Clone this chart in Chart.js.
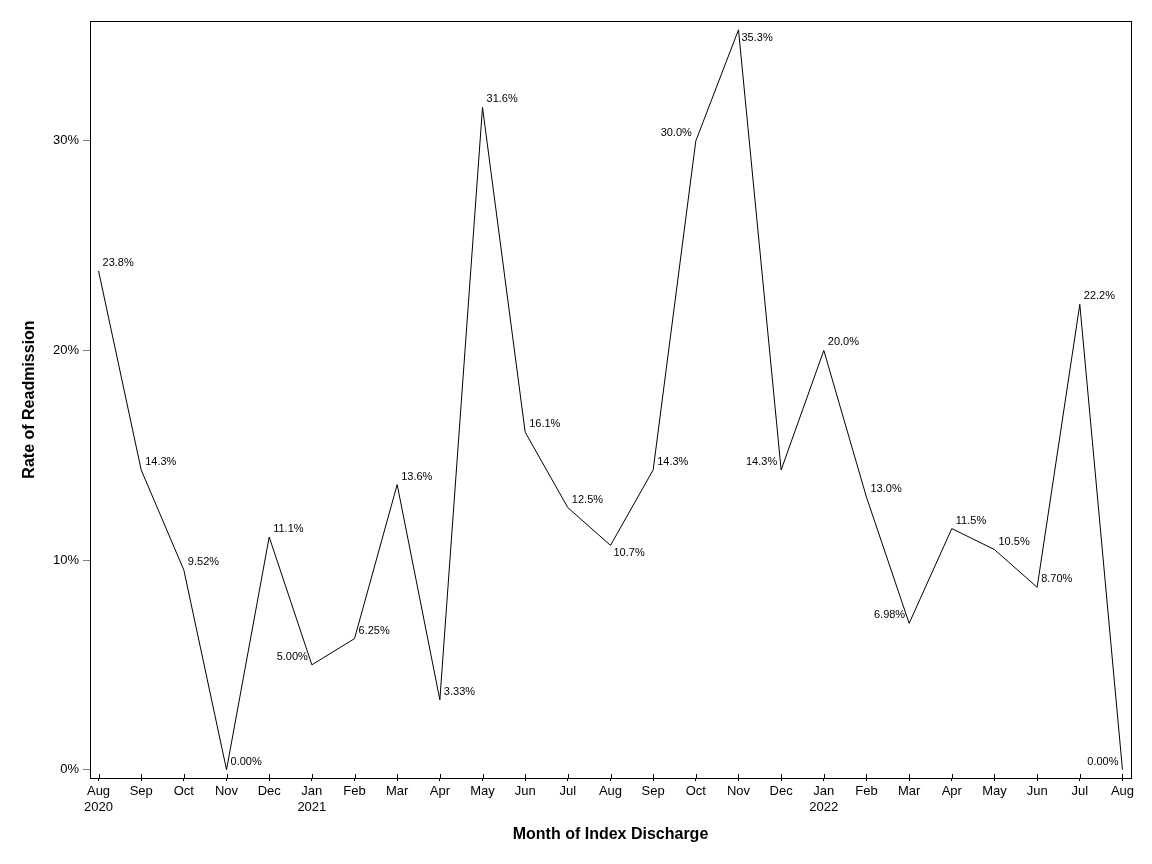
<!DOCTYPE html>
<html>
<head>
<meta charset="utf-8">
<script src="https://cdn.jsdelivr.net/npm/chart.js@4/dist/chart.umd.min.js"></script>
<style>
    html, body { margin: 0; padding: 0; background: #fff; }
    #wrap { width: 1152px; height: 864px; }
</style>
</head>
<body>
<div id="wrap"><canvas id="readmitChart" width="1152" height="864"></canvas></div>
<script>
// Month of index discharge (year shown under Aug 2020, Jan 2021, Jan 2022)
const months = ['Aug\n2020', 'Sep', 'Oct', 'Nov', 'Dec', 'Jan\n2021', 'Feb', 'Mar', 'Apr', 'May', 'Jun', 'Jul',
    'Aug', 'Sep', 'Oct', 'Nov', 'Dec', 'Jan\n2022', 'Feb', 'Mar', 'Apr', 'May', 'Jun', 'Jul', 'Aug'];

// Rate of readmission (%)
const readmitRates = [23.8, 14.3, 9.52, 0.00, 11.1, 5.00, 6.25, 13.6, 3.33, 31.6, 16.1, 12.5,
    10.7, 14.3, 30.0, 35.3, 14.3, 20.0, 13.0, 6.98, 11.5, 10.5, 8.70, 22.2, 0.00];

// y axis tick values (%)
const yTicks = [0, 10, 20, 30];

// where each point label sits: ur = up-right, ul = up-left, dr = down-right
const labelSide = ['ur', 'ur', 'ur', 'ur', 'ur', 'ul', 'ur', 'ur', 'ur', 'ur', 'ur', 'ur',
    'dr', 'ur', 'ul', 'dr', 'ul', 'ur', 'ur', 'ul', 'ur', 'ur', 'ur', 'ur', 'ul'];

const FONT = '"Liberation Sans", Arial, sans-serif';

function fmtPct(v) {
    return v.toPrecision(3) + '%';
}

// frame round the plot + inner half of the x ticks
const framePlugin = {
    id: 'frame',
    afterDraw(chart) {
        const { ctx, chartArea: a } = chart;
        const xs = chart.scales.x;
        ctx.save();
        ctx.strokeStyle = '#000';
        ctx.lineWidth = 1;
        ctx.strokeRect(Math.round(a.left) + 0.5, Math.round(a.top) + 0.5,
            Math.round(a.right - a.left), Math.round(a.bottom - a.top));
        months.forEach((m, i) => {
            const px = Math.round(xs.getPixelForValue(i)) + 0.5;
            ctx.beginPath();
            ctx.moveTo(px, a.bottom - 4);
            ctx.lineTo(px, a.bottom);
            ctx.stroke();
        });
        ctx.restore();
    }
};

// value labels next to each point
const pointLabels = {
    id: 'pointLabels',
    afterDatasetsDraw(chart) {
        const { ctx } = chart;
        const meta = chart.getDatasetMeta(0);
        ctx.save();
        ctx.font = '11px ' + FONT;
        ctx.fillStyle = '#000';
        ctx.textBaseline = 'middle';
        meta.data.forEach((pt, i) => {
            const side = labelSide[i];
            const txt = fmtPct(readmitRates[i]);
            if (side === 'ul') {
                ctx.textAlign = 'right';
                ctx.fillText(txt, pt.x - 4, pt.y - 8);
            } else if (side === 'dr') {
                ctx.textAlign = 'left';
                ctx.fillText(txt, pt.x + 3, pt.y + 8);
            } else {
                ctx.textAlign = 'left';
                ctx.fillText(txt, pt.x + 4, pt.y - 8);
            }
        });
        ctx.restore();
    }
};

const ctx = document.getElementById('readmitChart').getContext('2d');
new Chart(ctx, {
    type: 'line',
    data: {
        datasets: [{
            data: readmitRates.map((v, i) => ({ x: i, y: v })),
            borderColor: '#000',
            borderWidth: 1,
            pointRadius: 0,
            tension: 0,
            fill: false
        }]
    },
    options: {
        responsive: false,
        animation: false,
        devicePixelRatio: 1,
        layout: { padding: { top: 21, right: 21, left: 0, bottom: 0 } },
        plugins: {
            legend: { display: false },
            tooltip: { enabled: false }
        },
        scales: {
            x: {
                type: 'linear',
                min: -0.2,
                max: 24.2,
                afterBuildTicks: (scale) => {
                    scale.ticks = months.map((m, i) => ({ value: i }));
                },
                afterFit: (scale) => { scale.height = 86; },
                ticks: {
                    autoSkip: false,
                    maxRotation: 0,
                    padding: 3,
                    color: '#000',
                    font: { family: FONT, size: 13 },
                    callback: (val) => {
                        const m = months[val];
                        return m && m.includes('\n') ? m.split('\n') : m;
                    }
                },
                grid: { drawOnChartArea: false, drawTicks: true, tickLength: 3, color: '#000' },
                border: { display: true, color: '#000', width: 1 },
                title: {
                    display: true,
                    text: 'Month of Index Discharge',
                    color: '#000',
                    font: { family: FONT, size: 16, weight: 'bold' },
                    padding: { top: 0, bottom: 20 }
                }
            },
            y: {
                min: -0.40,
                max: 35.72,
                afterBuildTicks: (scale) => {
                    scale.ticks = yTicks.map(v => ({ value: v }));
                },
                afterFit: (scale) => { scale.width = 90; },
                ticks: {
                    padding: 4,
                    color: '#000',
                    font: { family: FONT, size: 13 },
                    callback: (val) => val + '%'
                },
                grid: { drawOnChartArea: false, drawTicks: true, tickLength: 7, color: '#808080' },
                border: { display: true, color: '#000', width: 1 },
                title: {
                    display: true,
                    text: 'Rate of Readmission',
                    color: '#000',
                    font: { family: FONT, size: 16, weight: 'bold' },
                    padding: { top: 20, bottom: 0 }
                }
            }
        }
    },
    plugins: [framePlugin, pointLabels]
});
</script>
</body>
</html>
